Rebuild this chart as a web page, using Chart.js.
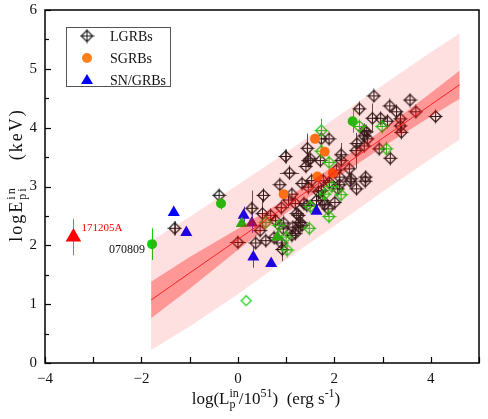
<!DOCTYPE html>
<html><head><meta charset="utf-8">
<script src="https://cdn.jsdelivr.net/npm/chart.js@4.4.1/dist/chart.umd.min.js"></script>
<style>html,body{margin:0;padding:0;background:#fff}</style>
</head><body>
<canvas id="c" width="488" height="419"></canvas>
<script>
// ---- data ----
const xTicks = [-4, -2, 0, 2, 4];
const yTicks = [0, 1, 2, 3, 4, 5, 6];

// fit line and bands: x positions, fit, 1-sigma (dark) and prediction (light) limits
const bandX   = [-1.8, -1, 0, 1, 2, 3, 4, 4.6];
const fitY    = [1.07, 1.53, 2.10, 2.67, 3.24, 3.82, 4.39, 4.73];
const darkUp  = [1.38, 1.80, 2.28, 2.79, 3.36, 3.97, 4.59, 4.97];
const darkLo  = [0.76, 1.26, 1.92, 2.55, 3.12, 3.67, 4.19, 4.49];
const lightUp = [2.08, 2.48, 3.03, 3.58, 4.15, 4.72, 5.28, 5.60];
const lightLo = [0.22, 0.62, 1.17, 1.76, 2.33, 2.91, 3.47, 3.80];

// [x, y, yErr, xErr]
const lgrbs = [
 [-1.31,2.29,0.12,0],[-0.39,2.85,0,0],[0.0,2.05,0,0.17],[0.29,2.63,0.3,0],[0.37,2.04,0,0],
 [0.46,2.25,0,0],[0.51,2.54,0.25,0],[0.53,2.85,0,0],[0.58,2.08,0,0],[0.68,2.51,0,0],
 [0.75,2.13,0,0],[0.78,2.42,0,0],[0.87,3.03,0,0],[0.90,2.64,0,0],[0.92,1.93,0.2,0],
 [0.94,2.28,0,0],[0.95,2.38,0,0],[0.99,3.51,0.12,0],[1.07,3.23,0,0.2],[1.05,2.77,0,0],
 [1.12,2.87,0,0],[1.14,2.31,0,0],[1.19,2.71,0,0],[1.19,2.20,0,0],[1.22,2.54,0,0],
 [1.26,2.51,0,0],[1.29,2.39,0.15,0],[1.33,2.34,0,0],[1.26,2.31,0,0],[1.37,2.71,0,0],
 [1.43,2.68,0,0],[1.41,3.34,0,0],[1.44,3.65,0.25,0],[1.46,3.44,0,0],[1.50,3.47,0,0],
 [1.71,3.44,0,0],[1.73,2.93,0,0],[1.80,2.69,0,0],[1.87,2.62,0,0],[1.89,3.81,0,0],
 [2.01,2.73,0,0],[2.04,3.28,0,0],[2.07,2.96,0,0],[2.11,3.03,0,0],[2.11,3.16,0,0],
 [2.14,3.54,0.2,0],[2.14,3.44,0,0],[2.31,3.30,0,0],[2.33,3.09,0,0],[2.35,3.13,0,0],
 [2.45,3.61,0.3,0],[2.46,2.96,0,0],[2.47,3.73,0,0],[2.52,4.32,0,0],[2.62,3.95,0,0],
 [2.66,3.93,0,0],[2.62,3.86,0,0],[2.69,3.81,0,0],[2.62,3.69,0,0],[2.64,3.09,0,0],
 [2.65,3.16,0,0],[2.79,4.16,0.25,0],[2.82,4.54,0,0],[2.93,3.64,0,0],[2.96,4.16,0,0],
 [3.10,4.11,0,0],[3.15,4.37,0,0],[3.16,3.48,0,0],[3.29,4.27,0,0],[3.37,4.15,0,0],
 [3.37,4.03,0,0],[3.39,3.92,0,0],[3.57,4.47,0,0],[3.69,4.27,0,0],[4.10,4.19,0,0],
 [1.46,2.99,0,0],[1.67,2.91,0,0],[1.63,2.76,0,0],[1.76,2.76,0,0],[1.12,2.17,0,0],
 [0.90,2.04,0,0],[1.73,3.81,0,0],[1.33,3.05,0,0],[1.53,3.10,0,0],[1.77,3.10,0,0],[1.90,3.07,0,0]
];
const sgrbs = [[1.60,3.81],[1.80,3.59],[1.65,3.17],[1.97,3.23],[0.95,2.87]];
const snGrbs = [[-1.33,2.56,0],[-1.07,2.22,0],[0.12,2.51,0.15],[0.32,1.80,0.18],[0.69,1.69,0],[1.63,2.58,0]];
const purpleTri = [[0.29,2.38,0.17]];
const redTri = [[-3.41,2.14,0.31]];
const greenDiamonds = [
 [1.73,3.95,0.2],[1.73,3.60,0],[1.89,3.41,0],[2.52,4.02,0],[2.99,4.02,0],[3.08,3.64,0],
 [1.50,2.66,0],[1.89,2.49,0],[1.48,2.29,0],[1.80,2.87,0],[2.14,2.86,0],[1.95,3.00,0],
 [0.58,2.39,0],[0.85,2.34,0],[1.00,2.14,0],[1.02,1.92,0]
];
const greenCircles = [[-1.78,2.02,0.27],[-0.35,2.71,0.1],[2.38,4.11,0.2]];
const greenTris = [[0.08,2.37],[0.82,2.14]];
const greenOpen = [[0.17,1.06]];
const legendNames = ['LGRBs', 'SGRBs', 'SN/GRBs'];
const annotations = [
  {text:'171205A', x:-3.41, y:2.14, dx:8, dy:-9, color:'#ff0000', size:11},
  {text:'070809', x:-1.78, y:2.02, dx:-7, dy:6, color:'#111', size:12, align:'right'}
];

// ---- styles ----
const SERIF = "'Liberation Serif', 'Times New Roman', serif";
function diamondCross(color){
  const c = document.createElement('canvas'); c.width = 15; c.height = 15;
  const g = c.getContext('2d'); g.strokeStyle = color; g.lineWidth = 1.2;
  g.beginPath(); g.moveTo(7.5,1.8); g.lineTo(13.2,7.5); g.lineTo(7.5,13.2); g.lineTo(1.8,7.5); g.closePath(); g.stroke();
  g.lineWidth = 1;
  g.beginPath(); g.moveTo(7.5,0.5); g.lineTo(7.5,14.5); g.moveTo(0.5,7.5); g.lineTo(14.5,7.5); g.stroke();
  return c;
}
function openDiamond(color){
  const c = document.createElement('canvas'); c.width = 13; c.height = 13;
  const g = c.getContext('2d'); g.strokeStyle = color; g.lineWidth = 1.2;
  g.beginPath(); g.moveTo(6.5,1.5); g.lineTo(11.5,6.5); g.lineTo(6.5,11.5); g.lineTo(1.5,6.5); g.closePath(); g.stroke();
  return c;
}
const lgrbImg = diamondCross('#1a1a1a');
const greenImg = diamondCross('#10d010');
const greenOpenImg = openDiamond('#10d010');
const pts = a => a.map(p => ({x:p[0], y:p[1]}));
const line = ys => bandX.map((x,i)=>({x, y:ys[i]}));

const datasets = [
  {label:'fit', type:'line', data: line(fitY), borderColor:'#ff2020', borderWidth:1, pointRadius:0, fill:false, order:0},
  {label:'dlo', type:'line', data: line(darkLo), borderWidth:0, borderColor:'rgba(0,0,0,0)', pointRadius:0, fill:false, order:1},
  {label:'dup', type:'line', data: line(darkUp), borderWidth:0, borderColor:'rgba(0,0,0,0)', pointRadius:0, fill:'-1', backgroundColor:'rgba(255,0,0,0.33)', order:1},
  {label:'llo', type:'line', data: line(lightLo), borderWidth:0, borderColor:'rgba(0,0,0,0)', pointRadius:0, fill:false, order:2},
  {label:'lup', type:'line', data: line(lightUp), borderWidth:0, borderColor:'rgba(0,0,0,0)', pointRadius:0, fill:'-1', backgroundColor:'rgba(255,0,0,0.12)', order:2},
  {label:'LGRBs', data: pts(lgrbs), pointStyle: lgrbImg, order:10, err:lgrbs, errColor:'#555'},
  {label:'green', data: pts(greenDiamonds), pointStyle: greenImg, order:9, err:greenDiamonds, errColor:'#10d010'},
  {label:'greenOpen', data: pts(greenOpen), pointStyle: greenOpenImg, order:9},
  {label:'SGRBs', data: pts(sgrbs), pointStyle:'circle', radius:5, backgroundColor:'#ff7f1a', borderWidth:0, order:8},
  {label:'greenC', data: pts(greenCircles), pointStyle:'circle', radius:5, backgroundColor:'#10d010', borderWidth:0, order:8, err:greenCircles, errColor:'#10d010'},
  {label:'greenT', data: pts(greenTris), pointStyle:'triangle', radius:7, backgroundColor:'#10c010', borderWidth:0, order:7},
  {label:'SN/GRBs', data: pts(snGrbs), pointStyle:'triangle', radius:7, backgroundColor:'#0000ff', borderWidth:0, order:7, err:snGrbs, errColor:'#4444ff'},
  {label:'purple', data: pts(purpleTri), pointStyle:'triangle', radius:7, backgroundColor:'#5a189a', borderWidth:0, order:7, err:purpleTri, errColor:'#6a3aff'},
  {label:'red', data: pts(redTri), pointStyle:'triangle', radius:9, backgroundColor:'#ff0000', borderWidth:0, order:7, err:redTri, errColor:'#ff5050'}
];
datasets.forEach(d => { if(!d.type){ d.pointRadius = d.radius || 5; d.pointHoverRadius = d.pointRadius; d.pointBorderColor = d.backgroundColor; d.pointBackgroundColor = d.backgroundColor; } });

const errPlugin = {
  id:'errbars',
  beforeDatasetsDraw(chart){
    const {ctx, scales:{x, y}} = chart;
    ctx.save(); ctx.lineWidth = 1;
    chart.data.datasets.forEach(d => {
      if(!d.err) return;
      ctx.strokeStyle = d.errColor;
      d.err.forEach(p => {
        const px = Math.round(x.getPixelForValue(p[0])) + 0.5, py = y.getPixelForValue(p[1]);
        if(p[2]){ ctx.beginPath(); ctx.moveTo(px, y.getPixelForValue(p[1]-p[2])); ctx.lineTo(px, y.getPixelForValue(p[1]+p[2])); ctx.stroke(); }
        if(p[3]){ ctx.beginPath(); ctx.moveTo(x.getPixelForValue(p[0]-p[3]), Math.round(py)+0.5); ctx.lineTo(x.getPixelForValue(p[0]+p[3]), Math.round(py)+0.5); ctx.stroke(); }
      });
    });
    ctx.restore();
  }
};

function drawScript(ctx, parts, x, y, align){
  let w = 0;
  const widths = parts.map(p => {
    if(p.stack){ ctx.font = p.size + 'px ' + SERIF; return Math.max(ctx.measureText(p.sup).width, ctx.measureText(p.sub).width); }
    ctx.font = p[1] + 'px ' + SERIF; return ctx.measureText(p[0]).width;
  });
  widths.forEach(v => w += v);
  let cx = align === 'center' ? x - w/2 : x;
  parts.forEach((p, i) => {
    if(p.stack){
      ctx.font = p.size + 'px ' + SERIF;
      ctx.fillText(p.sup, cx, y - p.supDy);
      ctx.fillText(p.sub, cx, y + p.subDy);
    } else {
      ctx.font = p[1] + 'px ' + SERIF;
      ctx.fillText(p[0], cx, y + (p[2]||0));
    }
    cx += widths[i];
  });
}

const decoPlugin = {
  id:'deco',
  afterDraw(chart){
    const {ctx, chartArea:a, scales:{x, y}} = chart;
    ctx.save();
    ctx.strokeStyle = '#000'; ctx.lineWidth = 1.5;
    ctx.strokeRect(a.left, a.top, a.right - a.left, a.bottom - a.top);
    ctx.lineWidth = 1.2;
    for(let v = -4; v <= 5; v++){
      const px = Math.round(x.getPixelForValue(v)) + 0.5;
      ctx.beginPath(); ctx.moveTo(px, a.bottom); ctx.lineTo(px, a.bottom - 6); ctx.stroke();
    }
    for(let v = 0; v <= 6; v += 0.5){
      const py = Math.round(y.getPixelForValue(v)) + 0.5;
      const len = (v % 1 === 0) ? 6 : 4;
      ctx.beginPath(); ctx.moveTo(a.left, py); ctx.lineTo(a.left + len, py); ctx.stroke();
    }
    // tick labels
    ctx.fillStyle = '#111'; ctx.font = '15px ' + SERIF;
    ctx.textAlign = 'center'; ctx.textBaseline = 'top';
    xTicks.forEach(v => ctx.fillText(String(v).replace('-', '\u2212'), x.getPixelForValue(v), a.bottom + 9));
    ctx.textAlign = 'right'; ctx.textBaseline = 'middle';
    yTicks.forEach(v => ctx.fillText(String(v), a.left - 8, y.getPixelForValue(v)));
    ctx.textAlign = 'left';
    // legend
    ctx.strokeStyle = '#555'; ctx.lineWidth = 1;
    ctx.strokeRect(66.5, 27.5, 104, 59);
    ctx.textBaseline = 'middle';
    const rows = [36, 58, 80];
    ctx.drawImage(lgrbImg, 87 - 7.5, rows[0] - 7.5);
    ctx.fillStyle = '#ff7f1a'; ctx.beginPath(); ctx.arc(87, rows[1], 5, 0, Math.PI*2); ctx.fill();
    ctx.fillStyle = '#0000ff'; ctx.beginPath(); ctx.moveTo(87, rows[2]-6); ctx.lineTo(93, rows[2]+4); ctx.lineTo(81, rows[2]+4); ctx.closePath(); ctx.fill();
    ctx.fillStyle = '#111'; ctx.font = '14px ' + SERIF;
    legendNames.forEach((n, i) => ctx.fillText(n, 110, rows[i] + 1));
    // annotations
    annotations.forEach(an => {
      ctx.fillStyle = an.color; ctx.font = an.size + 'px ' + SERIF;
      ctx.textAlign = an.align || 'left';
      ctx.fillText(an.text, x.getPixelForValue(an.x) + an.dx, y.getPixelForValue(an.y) + an.dy);
    });
    ctx.textAlign = 'left';
    // axis titles
    ctx.fillStyle = '#111'; ctx.textBaseline = 'alphabetic';
    drawScript(ctx, [['log(L',17],{stack:true, sup:'in', sub:'p', size:12, supDy:7, subDy:4},['/10',17],['51',12,-7],[')  (erg s',17],['-1',12,-7],[')',17]], 266, 404, 'center');
    ctx.translate(22, 175); ctx.rotate(-Math.PI/2);
    ctx.letterSpacing = '2px';
    drawScript(ctx, [['logE',18],{stack:true, sup:'in', sub:'pi', size:12, supDy:7, subDy:4},['    (keV)',18]], 0, 0, 'center');
    ctx.restore();
  }
};

new Chart(document.getElementById('c'), {
  type:'scatter',
  data:{datasets},
  options:{
    responsive:false, animation:false, devicePixelRatio:1,
    layout:{padding:{top:10, right:3, left:0, bottom:0}},
    plugins:{legend:{display:false}, tooltip:{enabled:false}},
    scales:{
      x:{type:'linear', min:-4, max:5,
         afterFit(s){ s.height = 56; },
         grid:{display:false, drawTicks:false}, border:{display:false},
         ticks:{display:false, stepSize:1}},
      y:{type:'linear', min:0, max:6,
         afterFit(s){ s.width = 45; },
         grid:{display:false, drawTicks:false}, border:{display:false},
         ticks:{display:false, stepSize:0.5}}
    }
  },
  plugins:[errPlugin, decoPlugin]
});
</script>
</body></html>
